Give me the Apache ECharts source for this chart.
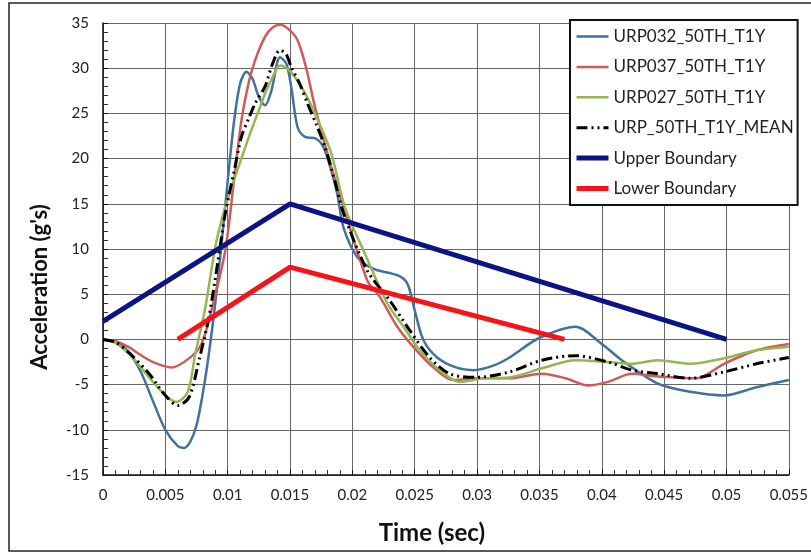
<!DOCTYPE html>
<html><head><meta charset="utf-8">
<script src="https://cdn.jsdelivr.net/npm/echarts@6/dist/echarts.min.js"></script>
<style>html,body{margin:0;padding:0;background:#fff}#c{width:811px;height:554px}</style>
</head><body><div id="c"></div>
<script>
// ---- data ----
var names = ['URP032_50TH_T1Y','URP037_50TH_T1Y','URP027_50TH_T1Y','URP_50TH_T1Y_MEAN','Upper Boundary','Lower Boundary'];
var xTicks = [0,0.005,0.01,0.015,0.02,0.025,0.03,0.035,0.04,0.045,0.05,0.055];

var blueT = [0,0.001,0.002,0.003,0.004,0.005,0.006,0.0065,0.007,0.0075,0.008,0.0085,0.009,0.0095,0.01,0.0105,0.011,0.0115,0.012,0.0125,0.013,0.0135,0.0142,0.0147,0.0151,0.0156,0.0162,0.0171,0.0177,0.0183,0.0188,0.0193,0.0204,0.0217,0.0236,0.0244,0.025,0.0257,0.0268,0.0283,0.0297,0.0313,0.0326,0.0349,0.0379,0.04,0.0416,0.0445,0.0471,0.0498,0.0524,0.055];
var blueV = [0,-0.3,-1.3,-3.5,-6.8,-10,-11.8,-12,-11.3,-9.5,-6,-1.5,4,10.5,17.5,24,28.3,29.6,28.8,26.8,25.9,27.5,31.2,30.5,27.9,23.5,22.4,22.2,21.2,18.7,16,12.3,9.1,7.8,7.1,6.2,3.2,-0.1,-2.0,-3.1,-3.4,-2.9,-2.0,0.1,1.4,-0.5,-2.3,-4.9,-5.8,-6.2,-5.3,-4.5];

var redT = [0,0.001,0.002,0.003,0.004,0.0055,0.0069,0.0079,0.0088,0.0098,0.0105,0.0111,0.0117,0.0122,0.013,0.0136,0.0142,0.0149,0.0156,0.0163,0.017,0.0183,0.0193,0.0212,0.0222,0.0236,0.0249,0.0265,0.0281,0.0299,0.0326,0.0352,0.0371,0.0389,0.0405,0.0424,0.0445,0.0476,0.0498,0.0524,0.055];
var redV = [0,-0.2,-0.8,-1.7,-2.5,-3.1,-2.1,-0.5,3.8,9.8,17.5,24.2,28.5,30.9,33.5,34.5,34.8,34.3,33.1,30,25.7,19.1,14.6,6.5,4.7,1.4,-0.85,-3.1,-4.5,-4.3,-4.3,-3.8,-4.3,-5.1,-4.7,-3.8,-4.1,-4.3,-2.7,-1.2,-0.5];

var greenT = [0,0.001,0.0021,0.0037,0.005,0.0059,0.0068,0.0074,0.0082,0.009,0.0097,0.0103,0.011,0.0117,0.0124,0.013,0.0136,0.0142,0.0149,0.0156,0.0163,0.017,0.0183,0.0194,0.0209,0.0228,0.0241,0.0254,0.027,0.0286,0.0305,0.0326,0.0352,0.0379,0.0405,0.0424,0.0445,0.0471,0.0498,0.0524,0.055];
var greenV = [0,-0.4,-1.6,-4.2,-6.2,-6.9,-5.8,-1.6,3.5,10.2,14.2,16.8,19.6,22.4,25,27.2,29,30.3,29.8,28.6,27,25,20.6,14.6,9.8,4.0,1.4,-1.2,-3.4,-4.7,-4.3,-4.2,-3.2,-2.3,-2.5,-2.7,-2.3,-2.7,-2.1,-1.2,-0.8];

var meanT = [0,0.001,0.0021,0.0037,0.005,0.006,0.0069,0.0077,0.0085,0.0092,0.0098,0.0105,0.0111,0.0117,0.0122,0.013,0.0136,0.0142,0.0147,0.0151,0.0158,0.0164,0.0171,0.0178,0.0186,0.0193,0.0212,0.023,0.0246,0.0262,0.0278,0.0299,0.0326,0.0352,0.0379,0.0405,0.0424,0.0445,0.0471,0.0498,0.0524,0.055];
var meanV = [0,-0.3,-1.5,-3.8,-6.2,-7.3,-6.4,-2.3,2.5,8.5,13.9,18.5,22.4,24.5,26.1,28,30.5,32.0,31.5,30.1,28.2,26.1,23.8,21.3,17.5,13.9,7.6,4.3,1.0,-2.0,-3.8,-4.2,-3.6,-2.3,-1.8,-2.5,-3.4,-3.8,-4.3,-3.6,-2.7,-2.0];

var upperT = [0,0.015,0.05];
var upperV = [2,15,0];
var lowerT = [0.006,0.015,0.037];
var lowerV = [0,8,0];

function pairs(t,v){return t.map(function(x,i){return [x,v[i]];});}

var FONT = 'Lato, "Open Sans", sans-serif';
var chart = echarts.init(document.getElementById('c'), null, {renderer:'canvas'});

function curve(name, t, v, color, width, type, smooth){
  return {name:name,type:'line',data:pairs(t,v),symbol:'none',smooth:smooth,
    lineStyle:{color:color,width:width,type:type||'solid'},itemStyle:{color:color},
    emphasis:{disabled:true},animation:false,z: 3};
}

chart.setOption({
  animation:false,
  backgroundColor:'#fff',
  grid:{left:103,top:23,right:16,bottom:79,containLabel:false},
  xAxis:{type:'value',min:0,max:0.055,interval:0.005,
    name:'Time (sec)',nameLocation:'middle',nameGap:46,
    nameTextStyle:{fontFamily:FONT,fontSize:24,fontWeight:'bold',color:'#111',padding:[0,28,0,0]},
    axisLine:{show:true,onZero:false,lineStyle:{color:'#111',width:1.5}},
    axisTick:{show:true,inside:true,length:5,lineStyle:{color:'#111'}},
    minorTick:{show:true,splitNumber:5,length:5,lineStyle:{color:'#333'}},
    axisLabel:{fontFamily:FONT,fontSize:15,color:'#222',margin:13,
      formatter:function(v){return String(+v.toFixed(3));}},
    splitLine:{show:true,lineStyle:{color:'#666',width:1}}
  },
  yAxis:{type:'value',min:-15,max:35,interval:5,
    name:"Acceleration (g's)",nameLocation:'middle',nameGap:52,nameRotate:90,
    nameTextStyle:{fontFamily:FONT,fontSize:22,fontWeight:'bold',color:'#111',padding:[0,76,0,0]},
    axisLine:{show:true,onZero:false,lineStyle:{color:'#111',width:1.5}},
    axisTick:{show:true,inside:true,length:5,lineStyle:{color:'#111'}},
    minorTick:{show:true,splitNumber:5,length:5,lineStyle:{color:'#333'}},
    axisLabel:{fontFamily:FONT,fontSize:15,color:'#222',margin:14},
    splitLine:{show:true,lineStyle:{color:'#666',width:1}}
  },
  legend:{orient:'vertical',left:570,top:20,itemWidth:32,itemHeight:14,itemGap:13.4,
    padding:[8,4,8,4],backgroundColor:'#fff',borderColor:'#111',borderWidth:2,
    itemStyle:{opacity:0},lineStyle:{width:'inherit'},
    textStyle:{fontFamily:FONT,fontSize:17,color:'#222',lineHeight:14},
    data:names,z:10},
  graphic:[
    {type:'rect',shape:{x:9,y:3,width:812,height:548},style:{fill:'none',stroke:'#222',lineWidth:1.5},z:-1,silent:true}
  ],
  series:[
    curve(names[0],blueT,blueV,'#41719c',2.5,'solid',0.3),
    curve(names[1],redT,redV,'#cf5a5a',2.5,'solid',0.3),
    curve(names[2],greenT,greenV,'#94b653',2.5,'solid',0.3),
    curve(names[3],meanT,meanV,'#000',3,[11,4,2,4,2,4],0.3),
    curve(names[4],upperT,upperV,'#0a1485',5,'solid',false),
    curve(names[5],lowerT,lowerV,'#f5141a',5,'solid',false)
  ]
});
</script></body></html>
